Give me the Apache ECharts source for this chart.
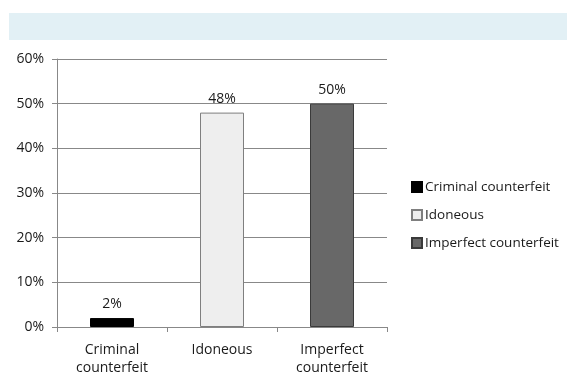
<!DOCTYPE html>
<html><head><meta charset="utf-8">
<script src="https://cdn.jsdelivr.net/npm/echarts@6/dist/echarts.min.js"></script>
<style>html,body{margin:0;padding:0;background:#fff}#c{width:567px;height:374px}</style>
</head><body><div id="c"></div>
<script>
const categories = ['Criminal\ncounterfeit', 'Idoneous', 'Imperfect\ncounterfeit'];
const seriesNames = ['Criminal counterfeit', 'Idoneous', 'Imperfect counterfeit'];
const values = [2, 48, 50];
const yTicks = [0, 10, 20, 30, 40, 50, 60];
const colors = ['#000000', '#eeeeee', '#686868'];
const borders = ['#000000', '#7f7f7f', '#3a3a3a'];
const FONT = 'Open Sans';

const series = seriesNames.map((name, i) => ({
  name, type: 'bar', barWidth: 44, barGap: '-100%',
  data: categories.map((c, j) => j === i ? values[i] : '-'),
  itemStyle: { color: colors[i], borderColor: borders[i], borderWidth: 1 },
  label: { show: true, position: 'top', formatter: '{c}%', color: '#1a1a1a', fontFamily: FONT, fontSize: 14, distance: 7 }
}));

const chart = echarts.init(document.getElementById('c'));
chart.setOption({
  animation: false,
  graphic: [{ type: 'rect', shape: { x: 9, y: 13, width: 558, height: 27 }, style: { fill: '#e2f0f5' } }],
  grid: { left: 57, top: 59, width: 330, height: 268, containLabel: false, outerBoundsMode: 'none' },
  legend: {
    orient: 'vertical', left: 406, top: 175, itemGap: 14, itemWidth: 10, itemHeight: 10,
    data: seriesNames,
    textStyle: { fontFamily: FONT, fontSize: 13.5, color: '#1a1a1a', padding: [0, 0, 0, -2] },
    icon: 'rect'
  },
  xAxis: {
    type: 'category', data: categories,
    axisLine: { lineStyle: { color: '#888' } },
    axisTick: { show: true, length: 5, lineStyle: { color: '#888' } },
    axisLabel: { fontFamily: FONT, fontSize: 14, color: '#1a1a1a', margin: 14, lineHeight: 18 }
  },
  yAxis: {
    type: 'value', min: 0, max: 60, interval: 10,
    axisLine: { show: true, lineStyle: { color: '#888' } },
    axisTick: { show: true, length: 5, lineStyle: { color: '#888' } },
    splitLine: { lineStyle: { color: '#888' } },
    axisLabel: { formatter: '{value}%', fontFamily: FONT, fontSize: 14, color: '#1a1a1a', margin: 13 }
  },
  series
});
</script></body></html>
